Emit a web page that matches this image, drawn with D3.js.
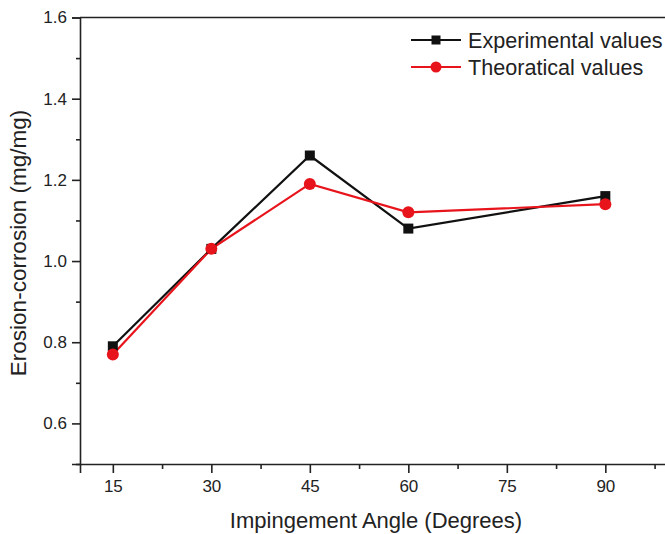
<!DOCTYPE html>
<html><head><meta charset="utf-8">
<script src="https://cdn.jsdelivr.net/npm/d3@7"></script>
<style>body{margin:0;background:#fff}svg{display:block;font-family:"Liberation Sans",Arial,sans-serif}</style>
</head><body><svg id="c" width="665" height="534"></svg>
<script>
const angles = [15, 30, 45, 60, 90];
const experimental = [0.79, 1.03, 1.26, 1.08, 1.16];
const theoretical = [0.77, 1.03, 1.19, 1.12, 1.14];
const xTicks = [15, 30, 45, 60, 75, 90];
const yTicks = [0.6, 0.8, 1.0, 1.2, 1.4, 1.6];
const seriesNames = ["Experimental values", "Theoratical values"];

const svg = d3.select("#c");
const L = 80, T = 17.5, B = 464;
const x = d3.scaleLinear().domain([10, 100]).range([L, 671]);
const y = d3.scaleLinear().domain([0.5, 1.6]).range([B, T]);
const ink = "#222";

// frame
svg.append("line").attr("x1", L).attr("x2", 671).attr("y1", T).attr("y2", T).attr("stroke", ink).attr("stroke-width", 1.6);
svg.append("line").attr("x1", 671).attr("x2", 671).attr("y1", T).attr("y2", B).attr("stroke", ink).attr("stroke-width", 1.6);

// x axis
const xa = svg.append("g").attr("transform", `translate(0,${B})`)
  .call(d3.axisBottom(x).tickValues(xTicks).tickSize(9).tickPadding(7).tickFormat(d3.format("d")));
const xm = svg.append("g").attr("transform", `translate(0,${B})`)
  .call(d3.axisBottom(x).tickValues(d3.range(22.5, 100, 15)).tickSize(5).tickFormat(""));
// y axis
const ya = svg.append("g").attr("transform", `translate(${L},0)`)
  .call(d3.axisLeft(y).tickValues(yTicks).tickSize(8).tickPadding(5).tickFormat(d3.format(".1f")));
const ym = svg.append("g").attr("transform", `translate(${L},0)`)
  .call(d3.axisLeft(y).tickValues([0.5, 0.7, 0.9, 1.1, 1.3, 1.5]).tickSize(4).tickFormat(""));
[xa, xm, ya, ym].forEach(g => {
  g.select(".domain").attr("stroke", ink).attr("stroke-width", 1.6);
  g.selectAll(".tick line").attr("stroke", ink).attr("stroke-width", 1.6);
  g.selectAll(".tick text").attr("fill", "#222").style("font-size", "17px").style("font-family", '"Liberation Sans",Arial,sans-serif');
});
xm.select(".domain").remove(); ym.select(".domain").remove();

// titles
svg.append("text").attr("x", 376).attr("y", 528).attr("text-anchor", "middle")
  .style("font-size", "22px").attr("fill", "#222").text("Impingement Angle (Degrees)");
svg.append("text").attr("transform", "translate(26,243) rotate(-90)").attr("text-anchor", "middle")
  .style("font-size", "22.5px").attr("fill", "#222").text("Erosion-corrosion (mg/mg)");

// series
const series = [
  {name: seriesNames[0], vals: experimental, color: "#111", shape: "square"},
  {name: seriesNames[1], vals: theoretical, color: "#e8141c", shape: "circle"}
];
const line = d3.line().x(d => x(d[0])).y(d => y(d[1]));
function marker(g, s, cx, cy) {
  if (s.shape === "square") g.append("rect").attr("x", cx - 5).attr("y", cy - 5).attr("width", 10).attr("height", 10).attr("fill", s.color);
  else g.append("circle").attr("cx", cx).attr("cy", cy).attr("r", 6).attr("fill", s.color);
}
series.forEach(s => {
  const pts = angles.map((a, i) => [a, s.vals[i]]);
  svg.append("path").attr("d", line(pts)).attr("fill", "none").attr("stroke", s.color).attr("stroke-width", 2.2);
});
series.forEach(s => {
  const g = svg.append("g");
  angles.forEach((a, i) => marker(g, s, x(a), y(s.vals[i])));
});

// legend
series.forEach((s, i) => {
  const ly = 40 + i * 27;
  svg.append("line").attr("x1", 411).attr("x2", 461).attr("y1", ly).attr("y2", ly).attr("stroke", s.color).attr("stroke-width", 2.2);
  const g = svg.append("g");
  if (s.shape === "square") g.append("rect").attr("x", 436 - 4.5).attr("y", ly - 4.5).attr("width", 9).attr("height", 9).attr("fill", s.color);
  else g.append("circle").attr("cx", 436).attr("cy", ly).attr("r", 5.5).attr("fill", s.color);
  svg.append("text").attr("x", 468).attr("y", ly + 7.5).style("font-size", "21.6px").attr("fill", "#222").text(s.name);
});
</script></body></html>
